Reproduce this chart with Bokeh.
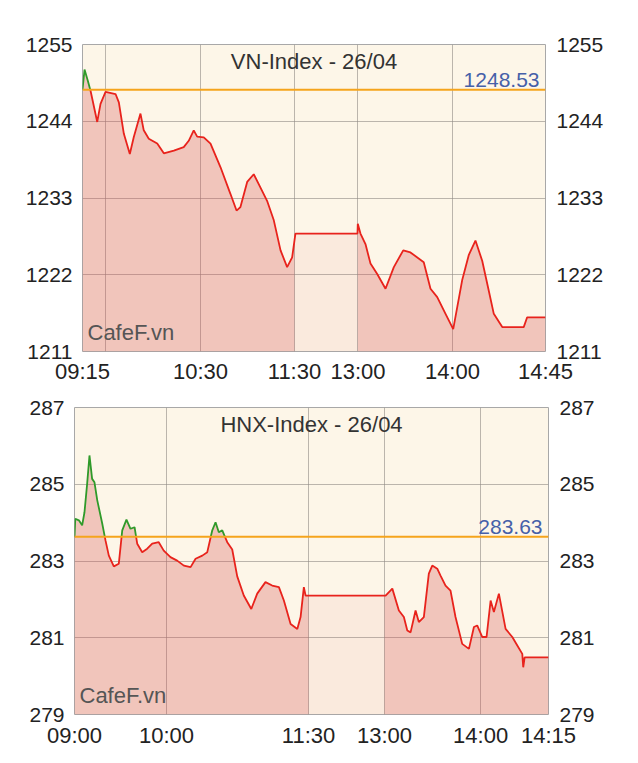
import numpy as np
from bokeh.plotting import figure
from bokeh.models import Range1d, LinearAxis, FixedTicker, Label, Span
from bokeh.embed import file_html
from bokeh.resources import INLINE

FONT = "Liberation Sans"

# ---------------- VN-Index ----------------
vn_title = "VN-Index - 26/04"
vn_ref = 1248.53
vn_t = [0, 1.3, 3.4, 5.1, 9.4, 11.5, 14.7, 21.1, 23.2, 26.4, 30.2, 32.7, 37.0, 39.1, 42.3,
        47.7, 51.9, 58.3, 64.6, 67.8, 71.0, 73.2, 77.4, 81.7, 88.1, 94.4, 98.3, 100.8, 105.1,
        109.3, 113.6, 117.8, 122.1, 126.4, 130.6, 133.8, 135.9, 175.5, 175.7, 177.4, 180.6,
        183.8, 188.1, 193.4, 198.7, 204.7, 209.3, 217.8, 222.1, 226.4, 231.7, 236.6, 242.3,
        246.5, 250.8, 255.1, 259.3, 262.5, 267.9, 281.6, 283.8, 295.5]
vn_v = [1248.53, 1251.4, 1249.8, 1248.4, 1243.9, 1246.5, 1248.2, 1247.9, 1246.7, 1242.2,
        1239.3, 1241.7, 1245.1, 1242.7, 1241.5, 1240.8, 1239.4, 1239.8, 1240.3, 1241.2,
        1242.7, 1241.8, 1241.7, 1240.8, 1237.4, 1233.6, 1231.2, 1231.7, 1235.3, 1236.4,
        1234.5, 1232.6, 1229.8, 1225.5, 1223.1, 1224.5, 1227.9, 1227.9, 1229.3, 1227.9,
        1226.4, 1223.6, 1222.1, 1220.0, 1223.1, 1225.5, 1225.2, 1223.8, 1220.0, 1218.8,
        1216.4, 1214.2, 1221.2, 1224.8, 1226.9, 1224.0, 1219.7, 1216.4, 1214.5, 1214.5,
        1215.9, 1215.9]
vn_yticks = [1211, 1222, 1233, 1244, 1255]
vn_xticks = [0, 75.3, 135.3, 175.8, 236.1, 295.5]
vn_xlabels = ["09:15", "10:30", "11:30", "13:00", "14:00", "14:45"]
vn_xgrid = [14.7, 75.3, 135.3, 175.8, 236.1]
vn_lunch = [135.3, 175.8]

# ---------------- HNX-Index ----------------
hnx_title = "HNX-Index - 26/04"
hnx_ref = 283.63
hnx_t = [0, 0.5, 2.8, 4.9, 6.4, 8.1, 9.6, 11.3, 12.8, 14.6,
         17.8, 19.9, 22.0, 25.2, 28.4, 30.6, 33.3, 35.9, 38.5, 40.2,
         43.4, 46.6, 49.8, 54.0, 57.2, 61.5, 65.8, 70.1, 74.4, 77.6,
         81.9, 85.1, 88.3, 90.4, 92.5, 94.7, 97.9, 101.1, 104.3, 108.5,
         113.3, 117.1, 122.4, 126.7, 131.0, 134.2, 138.5, 142.8, 144.9, 147.0,
         148.1, 199.4, 203.7, 207.9, 211.1, 213.3, 215.4, 218.6, 220.7, 223.9,
         227.1, 229.3, 232.5, 234.6, 237.8, 241.0, 244.2, 248.5, 252.8, 256.0,
         258.1, 261.3, 264.1, 266.7, 268.8, 272.0, 276.3, 280.6, 283.8, 287.0,
         287.6, 288.5, 303.8]
hnx_v = [283.62, 284.10, 284.06, 283.93, 284.27, 285.01, 285.75, 285.14, 285.05, 284.58,
         283.97, 283.53, 283.14, 282.86, 282.93, 283.80, 284.08, 283.84, 283.88, 283.45,
         283.23, 283.32, 283.45, 283.49, 283.27, 283.10, 283.01, 282.88, 282.84, 283.06,
         283.14, 283.23, 283.80, 284.01, 283.75, 283.80, 283.49, 283.30, 282.60, 282.10,
         281.75, 282.15, 282.45, 282.36, 282.32, 281.97, 281.36, 281.23, 281.54, 282.32,
         282.10, 282.10, 282.28, 281.71, 281.54, 281.19, 281.14, 281.71, 281.41, 281.54,
         282.67, 282.88, 282.80, 282.62, 282.36, 282.23, 281.54, 280.84, 280.71, 281.28,
         281.32, 281.02, 281.02, 281.97, 281.67, 282.15, 281.23, 281.02, 280.80, 280.58,
         280.23, 280.49, 280.49]
hnx_yticks = [279, 281, 283, 285, 287]
hnx_xticks = [0, 59.0, 150.0, 198.7, 260.3, 303.8]
hnx_xlabels = ["09:00", "10:00", "11:30", "13:00", "14:00", "14:15"]
hnx_xgrid = [59.0, 150.0, 198.7, 260.3]
hnx_lunch = [150.0, 198.7]

BG = "#fdf6e8"
RED = "#e8231c"
GREEN = "#2f9a2a"
ORANGE = "#f5a41c"
GRID = "#8f8a84"
FILL = "#d85352"


def split_line(t, v, ref):
    xs, ys = [t[0]], [v[0]]
    for i in range(1, len(t)):
        a, b = v[i - 1], v[i]
        if (a - ref) * (b - ref) < 0:
            f = (ref - a) / (b - a)
            xs.append(t[i - 1] + f * (t[i] - t[i - 1]))
            ys.append(ref)
        xs.append(t[i])
        ys.append(v[i])
    xs = np.array(xs, dtype=float)
    ys = np.array(ys, dtype=float)
    red = np.where(ys <= ref + 1e-9, ys, np.nan)
    green = np.where(ys >= ref - 1e-9, ys, np.nan)
    return xs, red, green


def segment(t, v, a, b):
    t = np.asarray(t, dtype=float)
    v = np.asarray(v, dtype=float)
    m = (t > a) & (t < b)
    xs = np.concatenate([[a], t[m], [b]])
    ys = np.concatenate([[np.interp(a, t, v)], v[m], [np.interp(b, t, v)]])
    return xs, ys


def build(title, ref, t, v, yticks, xticks, xlabels, xgrid, lunch,
          fw, bl, br, bt, bb, x_standoff):
    x0, x1 = xticks[0], xticks[-1]
    y0, y1 = yticks[0], yticks[-1]
    p = figure(width=bl + fw + br, height=bt + 307 + bb,
               x_range=Range1d(x0, x1), y_range=Range1d(y0, y1),
               output_backend="svg", toolbar_location=None,
               min_border_left=bl, min_border_right=br, min_border_top=bt, min_border_bottom=bb)
    p.background_fill_color = BG
    p.border_fill_color = "white"
    p.outline_line_color = "#a8a8a8"
    p.outline_line_width = 1

    # grids
    p.xgrid.ticker = FixedTicker(ticks=xgrid)
    p.ygrid.ticker = FixedTicker(ticks=yticks)
    for g in (p.xgrid, p.ygrid):
        g.grid_line_color = GRID
        g.grid_line_alpha = 0.6
        g.grid_line_width = 1

    # area under the curve: strong in trading sessions, faint during the lunch break
    for a, b, alpha in ((x0, lunch[0], 0.3), (lunch[0], lunch[1], 0.07), (lunch[1], x1, 0.3)):
        xs, ys = segment(t, v, a, b)
        p.varea(x=xs, y1=np.full(len(xs), y0), y2=ys, fill_color=FILL, fill_alpha=alpha)

    xs, red, green = split_line(t, v, ref)
    p.line(xs, red, line_color=RED, line_width=1.8)
    p.line(xs, green, line_color=GREEN, line_width=1.8)

    p.add_layout(Span(location=ref, dimension="width", line_color=ORANGE, line_width=2))

    # axes
    def style_axis(ax, size, standoff):
        ax.axis_line_color = None
        ax.major_tick_line_color = None
        ax.minor_tick_line_color = None
        ax.major_tick_out = 0
        ax.major_tick_in = 0
        ax.minor_tick_out = 0
        ax.minor_tick_in = 0
        ax.major_label_text_font = FONT
        ax.major_label_text_color = "#222222"
        ax.major_label_text_font_size = size
        ax.major_label_standoff = standoff

    p.xaxis.ticker = FixedTicker(ticks=xticks)
    p.xaxis.major_label_overrides = {k: lab for k, lab in zip(xticks, xlabels)}
    style_axis(p.xaxis[0], "22px", x_standoff)

    p.yaxis.ticker = FixedTicker(ticks=yticks)
    style_axis(p.yaxis[0], "21px", 10)

    right = LinearAxis(ticker=FixedTicker(ticks=yticks))
    style_axis(right, "21px", 11)
    p.add_layout(right, "right")

    p.add_layout(Label(x=(x0 + x1) / 2, y=y1, y_offset=-4, text=title, text_align="center",
                       text_baseline="top", text_font=FONT, text_font_size="22px",
                       text_color="#333333"))
    p.add_layout(Label(x=x1, y=ref, x_offset=-6, y_offset=3, text=f"{ref:.2f}",
                       text_align="right", text_baseline="bottom", text_font=FONT,
                       text_font_size="21px", text_color="#4660a8"))
    p.add_layout(Label(x=x0, y=y0, x_offset=5, y_offset=7, text="CafeF.vn",
                       text_align="left", text_baseline="bottom", text_font=FONT,
                       text_font_size="22px", text_color="#555555"))
    return p


p1 = build(vn_title, vn_ref, vn_t, vn_v, vn_yticks, vn_xticks, vn_xlabels, vn_xgrid, vn_lunch,
           463, 82, 85, 44, 43, 7)
p2 = build(hnx_title, hnx_ref, hnx_t, hnx_v, hnx_yticks, hnx_xticks, hnx_xlabels, hnx_xgrid,
           hnx_lunch, 474, 74, 82, 13, 44, 8)

open("out.html", "w").write(file_html([p1, p2], INLINE))
